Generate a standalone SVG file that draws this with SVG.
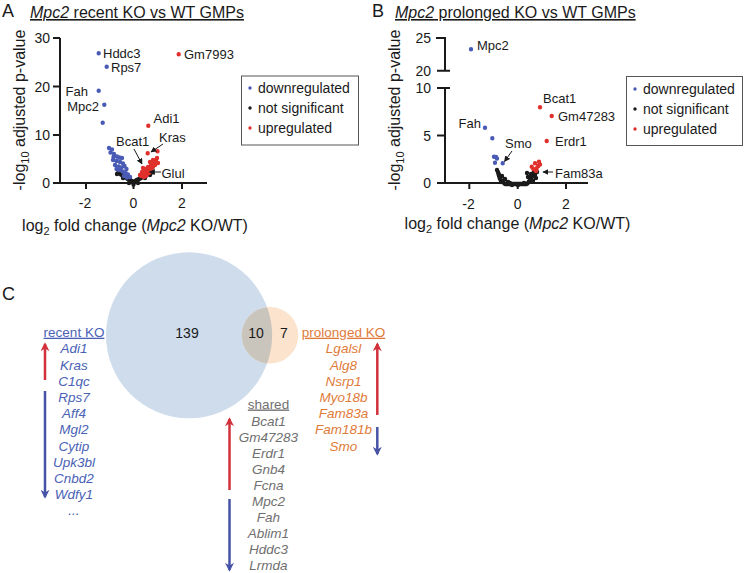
<svg xmlns="http://www.w3.org/2000/svg" width="744" height="573" viewBox="0 0 744 573">
<defs>
<style>
text{font-family:"Liberation Sans",Arial,sans-serif;fill:#1a1a1a}
.pl{font-size:18px}
.ti{font-size:16px;text-decoration:underline}
.ax{stroke:#1a1a1a;stroke-width:2;fill:none}
.tk{font-size:14px}
.tr{font-size:14px;text-anchor:end}
.tc{font-size:14px;text-anchor:middle}
.axl{font-size:16px;text-anchor:middle}
.lb{font-size:13px}
.lg{font-size:14px}
.box{fill:#fff;stroke:#555;stroke-width:1}
.al{stroke:#1a1a1a;stroke-width:1;fill:none;marker-end:url(#sa)}
.d{stroke-width:4.4;stroke-linecap:round;stroke-linejoin:round;fill:none}
.db{stroke:#4a5bb5}
.dr{stroke:#e0302c}
.dk{stroke:#1a1a1a}
.vh{font-size:13.5px;text-anchor:middle;text-decoration:underline}
.vl{font-size:13.5px;font-style:italic;text-anchor:middle}
.blu{fill:#4a62b5}
.ora{fill:#e07b39}
.gry{fill:#707070}
.ra{stroke:#d2313b;stroke-width:2.5;fill:none;marker-end:url(#mr)}
.ba{stroke:#4652a6;stroke-width:2.5;fill:none;marker-end:url(#mb)}
</style>
<marker id="sa" viewBox="0 0 10 10" refX="9" refY="5" markerWidth="6" markerHeight="6" markerUnits="userSpaceOnUse" orient="auto"><path d="M0,0L10,5L0,10z" fill="#1a1a1a"/></marker>
<marker id="mr" viewBox="0 0 10 10" refX="8" refY="5" markerWidth="9" markerHeight="9" markerUnits="userSpaceOnUse" orient="auto"><path d="M0,0L10,5L0,10L3,5z" fill="#d2313b"/></marker>
<marker id="mb" viewBox="0 0 10 10" refX="8" refY="5" markerWidth="9" markerHeight="9" markerUnits="userSpaceOnUse" orient="auto"><path d="M0,0L10,5L0,10L3,5z" fill="#4652a6"/></marker>
</defs>
<rect width="744" height="573" fill="#fff"/>

<g id="panelA">
<text class="pl" x="2" y="17">A</text>
<text class="ti" x="30" y="18"><tspan font-style="italic">Mpc2</tspan> recent KO vs WT GMPs</text>
<path class="ax" d="M60 38V183H207M53 38H60M53 86.5H60M53 135H60M53 183H60M86 183V189M133.5 183V189M182 183V189"/>
<text class="tr" x="50" y="43">30</text>
<text class="tr" x="50" y="91.5">20</text>
<text class="tr" x="50" y="140">10</text>
<text class="tr" x="50" y="188">0</text>
<text class="tc" x="85" y="208">-2</text>
<text class="tc" x="133.5" y="208">0</text>
<text class="tc" x="182" y="208">2</text>
<text class="axl" transform="translate(25,110) rotate(-90)">-log<tspan dy="4" font-size="11">10</tspan><tspan dy="-4"> adjusted p-value</tspan></text>
<text class="axl" x="135" y="231">log<tspan dy="4" font-size="11">2</tspan><tspan dy="-4"> fold change (</tspan><tspan font-style="italic">Mpc2</tspan> KO/WT)</text>
<path class="d dk" stroke-width="8" d="M120 174L127 178.5L133.5 182L140 178.5L149 173"/>
<path class="d dk" d="M118.5 171.5h0M121 172h0M124 175h0M126 176.5h0M130 180h0M133.5 184.5h0M137 180h0M141 176h0M144 174h0M147 172h0M150 171.5h0M152 172.5h0M129 183h0M138 183h0M123 178h0M145 178h0M117 174h0M150 175h0"/>
<path class="d db" d="M98.7 53.3h0M106.7 66.7h0M98.7 90.7h0M104.3 104.7h0M102.7 122.7h0M109 148h0M112 149.5h0M110.5 152.5h0M114 154h0M117 156.5h0M119.5 157.5h0M113 160h0M116.5 161h0M120 162h0M123 163.5h0M115 165h0M118.5 166.5h0M121.5 167.5h0M124.5 166h0M126.5 169h0M119 170h0M122.5 171.5h0M125.5 172.5h0M128 174.5h0M124 176h0M127 177.5h0M130 177h0M116.5 169h0M113.5 157h0M122 158h0"/>
<path class="d dr" stroke-width="6.5" d="M141 176L147 170L153 165L156 160"/>
<path class="d dr" d="M178.7 54.3h0M148.3 125.7h0M147.7 153.3h0M157.5 151.3h0M140 175h0M142 172h0M144 174h0M145 169h0M147 171h0M148 167h0M150 169h0M151 165h0M153 167h0M154 163h0M156 161h0M157 158h0M155 165h0M149 173h0M146 176h0M152 171h0M143 168h0M150 162h0M153 160h0M158 163h0M144 177h0M147 174h0"/>
<text class="lb" x="103" y="58">Hddc3</text>
<text class="lb" x="111" y="71.5">Rps7</text>
<text class="lb" x="184" y="59">Gm7993</text>
<text class="lb" x="88" y="95.5" text-anchor="end">Fah</text>
<text class="lb" x="99" y="110.5" text-anchor="end">Mpc2</text>
<text class="lb" x="153.5" y="123">Adi1</text>
<text class="lb" x="159" y="141.5">Kras</text>
<text class="lb" x="116" y="145.5">Bcat1</text>
<text class="lb" x="161.5" y="177.5">Glul</text>
<path class="al" d="M163 144L151 152"/>
<path class="al" d="M134 149L142 164"/>
<path class="al" d="M161 172L149.5 172"/>
<g id="legendA">
<rect class="box" x="241.5" y="76" width="117" height="69"/>
<circle cx="250" cy="88" r="1.7" fill="#4a5bb5"/>
<circle cx="250" cy="108" r="1.7" fill="#1a1a1a"/>
<circle cx="250" cy="128" r="1.7" fill="#e0302c"/>
<text class="lg" x="258" y="93">downregulated</text>
<text class="lg" x="258" y="113">not significant</text>
<text class="lg" x="258" y="133">upregulated</text>
</g>
</g>

<g id="panelB">
<text class="pl" x="372" y="17">B</text>
<text class="ti" x="395" y="18"><tspan font-style="italic">Mpc2</tspan> prolonged KO vs WT GMPs</text>
<path class="ax" d="M445 38V70.7M436 38H446M437 70.7H450M445 88V183H588M437 88H450M437 135.5H445M437 183H445M469.3 183V189M517.7 183V189M566 183V189"/>
<text class="tr" x="431" y="43">25</text>
<text class="tr" x="431" y="75.7">20</text>
<text class="tr" x="431" y="93">10</text>
<text class="tr" x="431" y="140.5">5</text>
<text class="tr" x="431" y="188">0</text>
<text class="tc" x="468.5" y="209">-2</text>
<text class="tc" x="517.7" y="209">0</text>
<text class="tc" x="566" y="209">2</text>
<text class="axl" transform="translate(400,110) rotate(-90)">-log<tspan dy="4" font-size="11">10</tspan><tspan dy="-4"> adjusted p-value</tspan></text>
<text class="axl" x="517.5" y="229">log<tspan dy="4" font-size="11">2</tspan><tspan dy="-4"> fold change (</tspan><tspan font-style="italic">Mpc2</tspan> KO/WT)</text>
<path class="d dk" stroke-width="5" d="M498 172L500 179L505 184L527 184L531 179L534 172"/>
<path class="d dk" d="M497 170h0M502 176h0M508 182h0M512 185h0M518 185h0M524 183h0M528 177h0M531 174h0M535 175h0M537 172h0M533 181h0M529 182h0M527 173h0M501 182h0M499 175h0M505 179h0M510 183h0M536 178h0"/>
<path class="d db" d="M471 49.3h0M485 127.7h0M492.3 138.3h0M494 156.7h0M497 158.5h0M495 162.7h0M502.7 163.3h0M496 157h0"/>
<path class="d dr" d="M540 107.3h0M551.7 116h0M546.7 141h0M531.7 166.7h0M535 163.3h0M539 161.7h0M536.7 168.3h0M538.3 166h0M536 171h0M533.3 169h0M540 164.5h0"/>
<text class="lb" x="477" y="50">Mpc2</text>
<text class="lb" x="543" y="103">Bcat1</text>
<text class="lb" x="558" y="121">Gm47283</text>
<text class="lb" x="481" y="128" text-anchor="end">Fah</text>
<text class="lb" x="555" y="146">Erdr1</text>
<text class="lb" x="505" y="148">Smo</text>
<text class="lb" x="555" y="178">Fam83a</text>
<path class="al" d="M512 151L504.5 161.5"/>
<path class="al" d="M553 172L543 172"/>
<g id="legendB">
<rect class="box" x="626.5" y="76.5" width="116" height="69"/>
<circle cx="635" cy="89" r="1.7" fill="#4a5bb5"/>
<circle cx="635" cy="109" r="1.7" fill="#1a1a1a"/>
<circle cx="635" cy="129" r="1.7" fill="#e0302c"/>
<text class="lg" x="643" y="94">downregulated</text>
<text class="lg" x="643" y="114">not significant</text>
<text class="lg" x="643" y="134">upregulated</text>
</g>
</g>

<g id="panelC">
<text class="pl" x="2" y="300">C</text>
<g id="venn">
<circle cx="189" cy="335.3" r="83" fill="#cfdcec"/>
<circle cx="270" cy="335.3" r="28.3" fill="#fbe3cd"/>
<path d="M267.1 307.15A83 83 0 0 1 267.1 363.45A28.3 28.3 0 0 1 267.1 307.15Z" fill="#c9c5bd"/>
<text class="tc" x="187" y="338">139</text>
<text class="tc" x="256" y="338">10</text>
<text class="tc" x="284" y="338">7</text>
</g>
<g id="recent">
<text class="vh blu" x="74" y="336.7">recent KO</text>
<text class="vl blu" x="74" y="353.3">Adi1</text>
<text class="vl blu" x="74" y="369.5">Kras</text>
<text class="vl blu" x="74" y="385.7">C1qc</text>
<text class="vl blu" x="74" y="401.9">Rps7</text>
<text class="vl blu" x="74" y="418.1">Aff4</text>
<text class="vl blu" x="74" y="434.3">Mgl2</text>
<text class="vl blu" x="74" y="450.5">Cytip</text>
<text class="vl blu" x="74" y="466.7">Upk3bl</text>
<text class="vl blu" x="74" y="482.9">Cnbd2</text>
<text class="vl blu" x="74" y="499.1">Wdfy1</text>
<text class="vl blu" x="74" y="514.5">...</text>
</g>
<g id="shared">
<text class="vh gry" x="268.5" y="408.5">shared</text>
<text class="vl gry" x="268.5" y="425.5">Bcat1</text>
<text class="vl gry" x="268.5" y="441.5">Gm47283</text>
<text class="vl gry" x="268.5" y="457.5">Erdr1</text>
<text class="vl gry" x="268.5" y="473.5">Gnb4</text>
<text class="vl gry" x="268.5" y="489.5">Fcna</text>
<text class="vl gry" x="268.5" y="505.5">Mpc2</text>
<text class="vl gry" x="268.5" y="521.5">Fah</text>
<text class="vl gry" x="268.5" y="537.5">Ablim1</text>
<text class="vl gry" x="268.5" y="553.5">Hddc3</text>
<text class="vl gry" x="268.5" y="569.5">Lrmda</text>
</g>
<g id="prolonged">
<text class="vh ora" x="343.5" y="336.7">prolonged KO</text>
<text class="vl ora" x="343.5" y="353.3">Lgalsl</text>
<text class="vl ora" x="343.5" y="369.5">Alg8</text>
<text class="vl ora" x="343.5" y="385.7">Nsrp1</text>
<text class="vl ora" x="343.5" y="401.9">Myo18b</text>
<text class="vl ora" x="343.5" y="418.1">Fam83a</text>
<text class="vl ora" x="343.5" y="434.3">Fam181b</text>
<text class="vl ora" x="343.5" y="450.5">Smo</text>
</g>
<g id="connectors">
<path class="ra" d="M45 380V344"/>
<path class="ba" d="M45 391V497"/>
<path class="ra" d="M229.5 490V419"/>
<path class="ba" d="M229.5 499V570"/>
<path class="ra" d="M377.3 415V344"/>
<path class="ba" d="M377.3 427V454"/>
</g>
</g>
</svg>
